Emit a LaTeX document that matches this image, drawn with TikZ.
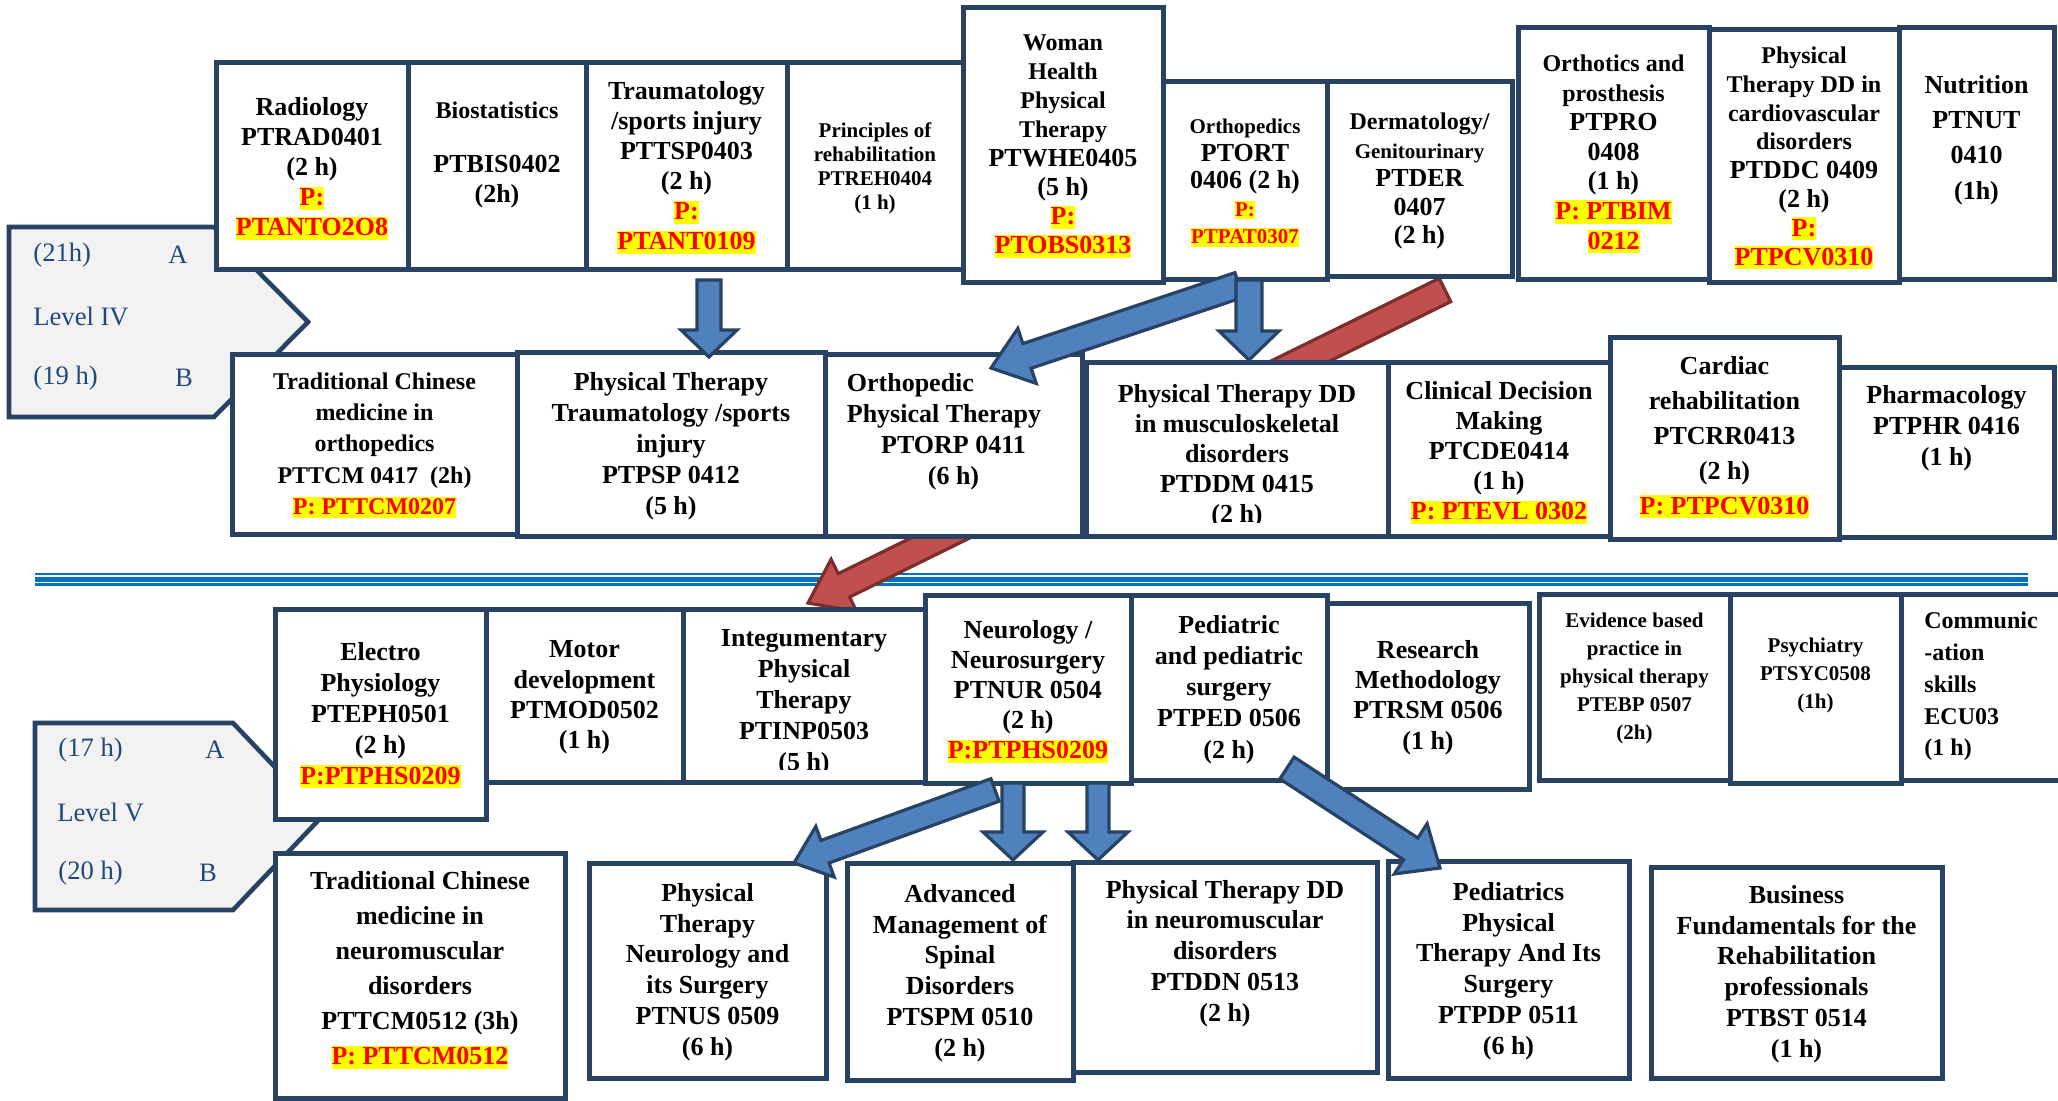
\documentclass[tikz,border=0pt]{standalone}
\usepackage{fontspec}
\setmainfont{Liberation Serif}
\usetikzlibrary{calc}
\definecolor{navy}{RGB}{40,66,99}
\definecolor{arrowblue}{RGB}{79,129,189}
\definecolor{arrowred}{RGB}{192,80,77}
\definecolor{darkred}{RGB}{125,45,43}
\definecolor{levelfill}{RGB}{242,242,242}
\definecolor{leveltext}{RGB}{31,73,125}
\definecolor{sepblue}{RGB}{0,112,192}
\definecolor{hlyellow}{RGB}{255,255,0}
\definecolor{hlred}{RGB}{255,0,0}
\newcommand{\fz}[2]{\fontsize{#1}{#2}\selectfont}
\newcommand{\fa}{\fontsize{10.5}{12}\selectfont}
\newcommand{\fb}{\fontsize{12}{14}\selectfont}
\newcommand{\fc}{\fontsize{13}{15}\selectfont}
\newcommand{\hlt}[1]{{\setlength{\fboxsep}{0pt}\colorbox{hlyellow}{\color{hlred}\rule[-0.16em]{0pt}{0.9em}#1}}}
\newcommand{\cbox}[5]{\node[cbox, minimum width={(#4-#2)*0.5pt}, minimum height={(#5-#3)*0.5pt}] (#1) at ({(#2+#4)/2},{(#3+#5)/2}) {};}
\newcommand{\fatarrow}[6]{%
  \path ($(#3)!#6!(#2)$) coordinate (hb);
  \draw[#1] ($(#2)!#4!90:(#3)$) -- ($(hb)!#4!90:(#3)$) -- ($(hb)!#5!90:(#3)$) -- (#3) -- ($(hb)!#5!-90:(#3)$) -- ($(hb)!#4!-90:(#3)$) -- ($(#2)!#4!-90:(#3)$) -- cycle;}
\tikzset{
  cbox/.style={draw=navy, line width=2.5pt, fill=white, inner sep=0pt, rectangle},
  ctext/.style={align=center, inner sep=0pt, font=\bfseries\fz{13}{15}},
  cf/.style 2 args={font=\bfseries\fz{#1}{#2}},
  lvl/.style={draw=navy, line width=2.3pt, fill=levelfill, line join=miter},
  ltext/.style={font=\fz{13.3}{15}, text=leveltext, inner sep=0pt},
  bluearrow/.style={fill=arrowblue, draw=navy, line width=1.6pt, line join=miter},
  redarrow/.style={fill=arrowred, draw=darkred, line width=1.6pt, line join=miter},
}
\begin{document}
\begin{tikzpicture}[x=0.5pt,y=-0.5pt]
\useasboundingbox (0,0) rectangle (2058,1101);
% separator
\draw[sepblue, line width=1pt] (35,574) -- (2028,574);
\draw[sepblue, line width=2.1pt] (35,579.5) -- (2028,579.5);
\draw[sepblue, line width=1.1pt] (35,584.5) -- (2028,584.5);
% red arrow (behind boxes)
\coordinate (r1s) at (1445,290); \coordinate (r1e) at (808,603);
\fatarrow{redarrow}{r1s}{r1e}{6.5pt}{14.5pt}{20pt}
% level shapes
\draw[lvl] (9,227) -- (214,227) -- (308,322) -- (214,417) -- (9,417) -- cycle;
\draw[lvl] (35,723) -- (233,723) -- (322,816.5) -- (233,910) -- (35,910) -- cycle;
\node[ltext, anchor=west] (l4h) at (33,255) {(21h)};
\node[ltext] (l4a) at (178,255) {A};
\node[ltext, anchor=west] (l4n) at (33,316) {Level IV};
\node[ltext, anchor=west] (l4g) at (33,378) {(19 h)};
\node[ltext] (l4b) at (184,378) {B};
\node[ltext, anchor=west] (l5h) at (58,750) {(17 h)};
\node[ltext] (l5a) at (215,750) {A};
\node[ltext, anchor=west] (l5n) at (57,812) {Level V};
\node[ltext, anchor=west] (l5g) at (58,873) {(20 h)};
\node[ltext] (l5b) at (208,873) {B};
% Level IV A
\cbox{rad}{216}{63}{408}{270}
\cbox{bio}{408}{63}{586}{270}
\cbox{tra}{586}{63}{787}{270}
\cbox{pri}{787}{63}{963}{270}
\cbox{wom}{963}{8}{1163}{283}
\cbox{ort}{1163}{82}{1327}{280}
\cbox{der}{1327}{82}{1512}{277}
\cbox{pro}{1518}{28}{1709}{280}
\cbox{ddc}{1709}{30}{1899}{283}
\cbox{nut}{1899}{28}{2054}{280}
% Level IV B
\cbox{tcmo}{232}{355}{517}{535}
\cbox{psp}{517}{353}{825}{537}
\cbox{orp}{825}{355}{1082}{537}
\cbox{ddm}{1086}{363}{1388}{537}
\cbox{cde}{1388}{363}{1610}{537}
\cbox{crr}{1610}{338}{1839}{540}
\cbox{phr}{1839}{368}{2054}{538}
% Level V A
\cbox{eph}{275}{610}{486}{819}
\cbox{mod}{486}{610}{683}{782}
\cbox{inp}{683}{610}{925}{782}
\cbox{nur}{925}{596}{1131}{783}
\cbox{ped}{1131}{596}{1327}{780}
\cbox{rsm}{1327}{604}{1529}{789}
\cbox{ebp}{1539}{595}{1730}{780}
\cbox{syc}{1730}{595}{1901}{783}
\cbox{ecu}{1901}{595}{2066}{780}
% Level V B
\cbox{tcmn}{275}{853}{565}{1098}
\cbox{nus}{589}{863}{826}{1078}
\cbox{spm}{847}{863}{1073}{1080}
\cbox{ddn}{1073}{862}{1377}{1072}
\cbox{pdp}{1388}{861}{1629}{1078}
\cbox{bst}{1651}{867}{1942}{1078}
% texts Level IV A
\node[ctext] (radT) at (312,169) {Radiology\\PTRAD0401\\(2 h)\\\hlt{P:}\\\hlt{PTANTO2O8}};
\node[ctext] (bioT) at (497,155) {\fb Biostatistics\\[12pt]PTBIS0402\\(2h)};
\node[ctext] (traT) at (686.5,168) {Traumatology\\/sports injury\\PTTSP0403\\(2 h)\\\hlt{P:}\\\hlt{PTANT0109}};
\node[ctext, cf={10.5}{12}] (priT) at (875,168.5) {Principles of\\rehabilitation\\PTREH0404\\(1 h)};
\node[ctext, cf={13}{14.5}] (womT) at (1063,146.5) {\fb Woman\\\fb Health\\\fb Physical\\\fb Therapy\\PTWHE0405\\(5 h)\\\hlt{P:}\\\hlt{PTOBS0313}};
\node[ctext, cf={10.5}{13.75}] (ortT) at (1245,183) {Orthopedics\\\fc PTORT\\\fc 0406 (2 h)\\\hlt{P:}\\\hlt{PTPAT0307}};
\node[ctext, cf={13}{14.25}] (derT) at (1419.5,181) {\fb Dermatology/\\\fa Genitourinary\\PTDER\\0407\\(2 h)};
\node[ctext, cf={13}{14.8}] (proT) at (1613.5,154) {\fb Orthotics and\\\fb prosthesis\\PTPRO\\0408\\(1 h)\\\hlt{P: PTBIM}\\\hlt{0212}};
\node[ctext, cf={13}{14.4}] (ddcT) at (1804,158) {\fb Physical\\\fb Therapy DD in\\\fb cardiovascular\\\fb disorders\\PTDDC 0409\\(2 h)\\\hlt{P:}\\\hlt{PTPCV0310}};
\node[ctext, cf={13}{17.6}] (nutT) at (1976.5,140) {Nutrition\\PTNUT\\0410\\(1h)};
% texts Level IV B
\node[ctext, cf={12}{15.6}] (tcmoT) at (374.5,445.5) {Traditional Chinese\\medicine in\\orthopedics\\PTTCM 0417\ \ (2h)\\\hlt{P: PTTCM0207}};
\node[ctext, cf={13}{15.5}] (pspT) at (671,446) {Physical Therapy\\Traumatology /sports\\injury\\PTPSP 0412\\(5 h)};
\node[ctext, cf={13}{15.5}] (orpT) at (953.5,431.5) {\makebox[8.2em][l]{Orthopedic}\\\makebox[8.2em][l]{Physical Therapy}\\PTORP 0411\\(6 h)};
\begin{scope}
\clip (1086,363) rectangle (1388,523);
\node[ctext, cf={13}{15}] (ddmT) at (1237,456) {Physical Therapy DD\\in musculoskeletal\\disorders\\PTDDM 0415\\(2 h)};
\end{scope}
\node[ctext, cf={13}{15}] (cdeT) at (1499,453) {Clinical Decision\\Making\\PTCDE0414\\(1 h)\\\hlt{P: PTEVL 0302}};
\node[ctext, cf={13}{17.4}] (crrT) at (1724.5,437.5) {Cardiac\\rehabilitation\\PTCRR0413\\(2 h)\\\hlt{P: PTPCV0310}};
\node[ctext, cf={13}{15.5}] (phrT) at (1946.5,428) {Pharmacology\\PTPHR 0416\\(1 h)};
% texts Level V A
\node[ctext, cf={13}{15.4}] (ephT) at (380.5,715.5) {Electro\\Physiology\\PTEPH0501\\(2 h)\\\hlt{P:PTPHS0209}};
\node[ctext, cf={13}{15.2}] (modT) at (584.5,697.5) {Motor\\development\\PTMOD0502\\(1 h)};
\begin{scope}
\clip (683,610) rectangle (925,769);
\node[ctext, cf={13}{15.5}] (inpT) at (804,703) {Integumentary\\Physical\\Therapy\\PTINP0503\\(5 h)};
\end{scope}
\node[ctext, cf={13}{15}] (nurT) at (1028,692) {Neurology /\\Neurosurgery\\PTNUR 0504\\(2 h)\\\hlt{P:PTPHS0209}};
\node[ctext, cf={13}{15.6}] (pedT) at (1229,689.5) {Pediatric\\and pediatric\\surgery\\PTPED 0506\\(2 h)};
\node[ctext, cf={13}{15.2}] (rsmT) at (1428,697.5) {Research\\Methodology\\PTRSM 0506\\(1 h)};
\node[ctext, cf={10.5}{13.9}] (ebpT) at (1634.5,678.5) {Evidence based\\practice in\\physical therapy\\PTEBP 0507\\(2h)};
\node[ctext, cf={10.5}{14}] (sycT) at (1815.5,675) {Psychiatry\\PTSYC0508\\(1h)};
\node[ctext, cf={12}{15.9}, align=left, anchor=west] (ecuT) at (1924,686.5) {Communic\\-ation\\skills\\ECU03\\(1 h)};
% texts Level V B
\node[ctext, cf={13}{17.5}] (tcmnT) at (420,970.5) {Traditional Chinese\\medicine in\\neuromuscular\\disorders\\PTTCM0512 (3h)\\\hlt{P: PTTCM0512}};
\node[ctext, cf={13}{15.4}] (nusT) at (707.5,972) {Physical\\Therapy\\Neurology and\\its Surgery\\PTNUS 0509\\(6 h)};
\node[ctext, cf={13}{15.4}] (spmT) at (960,973) {Advanced\\Management of\\Spinal\\Disorders\\PTSPM 0510\\(2 h)};
\node[ctext, cf={13}{15.4}] (ddnT) at (1225,953.5) {Physical Therapy DD\\in neuromuscular\\disorders\\PTDDN 0513\\(2 h)};
\node[ctext, cf={13}{15.4}] (pdpT) at (1508.5,971) {Pediatrics\\Physical\\Therapy And Its\\Surgery\\PTPDP 0511\\(6 h)};
\node[ctext, cf={13}{15.4}] (bstT) at (1796.5,974) {Business\\Fundamentals for the\\Rehabilitation\\professionals\\PTBST 0514\\(1 h)};
% blue arrows
\coordinate (a1s) at (709,280); \coordinate (a1e) at (709,357);
\fatarrow{bluearrow}{a1s}{a1e}{6pt}{14pt}{13.5pt}
\coordinate (a2s) at (1239,285); \coordinate (a2e) at (991,368);
\fatarrow{bluearrow}{a2s}{a2e}{6.5pt}{14.5pt}{19pt}
\coordinate (a3s) at (1249,280); \coordinate (a3e) at (1249,360);
\fatarrow{bluearrow}{a3s}{a3e}{6.5pt}{15pt}{14.5pt}
\coordinate (b1s) at (995,790); \coordinate (b1e) at (794,863);
\fatarrow{bluearrow}{b1s}{b1e}{6pt}{13.5pt}{16.5pt}
\coordinate (b2s) at (1013,783); \coordinate (b2e) at (1013,860);
\fatarrow{bluearrow}{b2s}{b2e}{5.5pt}{15pt}{14pt}
\coordinate (b3s) at (1098,783); \coordinate (b3e) at (1098,860);
\fatarrow{bluearrow}{b3s}{b3e}{5.5pt}{15pt}{14pt}
\coordinate (b4s) at (1287,768); \coordinate (b4e) at (1440,868);
\fatarrow{bluearrow}{b4s}{b4e}{6.5pt}{15pt}{17.5pt}
\end{tikzpicture}
\end{document}
